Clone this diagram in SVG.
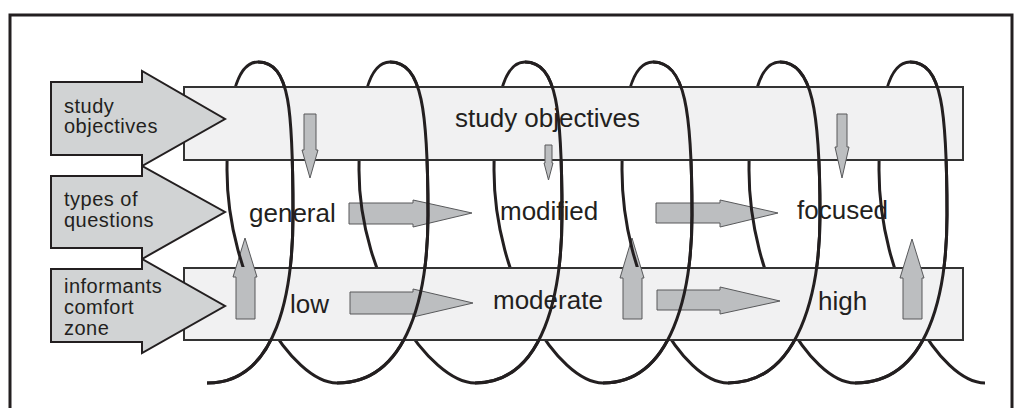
<svg xmlns="http://www.w3.org/2000/svg" width="1021" height="408" viewBox="0 0 1021 408">
<style>
.band{fill:#f1f1f2;stroke:#333333;stroke-width:2}
.big{fill:#d1d3d4;stroke:#231f20;stroke-width:2;stroke-linejoin:miter}
.sm{fill:#bcbec0;stroke:#58595b;stroke-width:1}
.coil{fill:none;stroke:#231f20;stroke-width:3}
.lbl{font-family:"Liberation Sans",Arial,sans-serif;font-size:20px;letter-spacing:0.5px;fill:#231f20}
.main{font-family:"Liberation Sans",Arial,sans-serif;font-size:26px;fill:#231f20}
</style>
<defs>
<mask id="behind" maskUnits="userSpaceOnUse" x="0" y="0" width="1021" height="408">
<rect x="0" y="0" width="1021" height="408" fill="#fff"/>
<rect x="183" y="86" width="781" height="75" fill="#000"/>
<rect x="183" y="267" width="781" height="74" fill="#000"/>
</mask>
</defs>
<rect x="10" y="15" width="1002" height="420" fill="none" stroke="#231f20" stroke-width="3"/>
<g id="band-top"><rect class="band" x="184" y="87" width="779" height="73"/></g>
<g id="band-bottom"><rect class="band" x="184" y="268" width="779" height="72"/></g>
<g id="arrow-study-objectives">
<polygon class="big" points="51,82 142,82 142,71 225,119 142,166 142,155 51,155"/>
<text class="lbl" x="64" y="113">study</text>
<text class="lbl" x="64" y="133">objectives</text>
</g>
<g id="arrow-types-of-questions">
<polygon class="big" points="51,176 142,176 142,166 225,212 142,259 142,248 51,248"/>
<text class="lbl" x="64" y="206">types of</text>
<text class="lbl" x="64" y="227">questions</text>
</g>
<g id="arrow-informants">
<polygon class="big" points="51,269 142,269 142,259 225,306 142,353 142,342 51,342"/>
<text class="lbl" x="64" y="292.5">informants</text>
<text class="lbl" x="64" y="314">comfort</text>
<text class="lbl" x="64" y="335">zone</text>
</g>
<g id="small-arrows">
<polygon class="sm" points="304,114 316,114 316,150 318,150 310,178 302,150 304,150"/>
<polygon class="sm" points="545,145 552,145 552,163 553,163 548.5,180 544,163 545,163"/>
<polygon class="sm" points="837,114 847,114 847,147 849,147 842,178 835,147 837,147"/>
<polygon class="sm" points="349,203 413,203 413,200 472,213 413,227 413,224 349,224"/>
<polygon class="sm" points="656,203 720,203 720,200 778,213 720,227 720,223 656,223"/>
<polygon class="sm" points="350,292 413,292 413,289 473,303 413,317 413,314 350,314"/>
<polygon class="sm" points="657,290 720,290 720,287 780,301 720,314 720,310 657,310"/>
<polygon class="sm" points="236,319 255,319 255,277 257,277 245,238 233,277 236,277"/>
<polygon class="sm" points="623,319 642,319 642,278 644,278 632,238 620,278 623,278"/>
<polygon class="sm" points="903,319 922,319 922,278 924,278 912,239 900,278 903,278"/>
</g>
<g id="labels">
<text class="main" x="455" y="127">study objectives</text>
<text class="main" x="249" y="222">general</text>
<text class="main" x="500" y="220">modified</text>
<text class="main" x="797" y="219">focused</text>
<text class="main" x="290" y="313">low</text>
<text class="main" x="493" y="309">moderate</text>
<text class="main" x="818" y="310">high</text>
</g>
<g id="connectors">
<path class="coil" mask="url(#behind)" d="M207,383 C278,383 293,290 293,215 C293,110 290,62 258,62 C234,62 227,110 227,170 C227,280 292,383 337,383 C410,383 428,290 428,215 C428,110 422,62 390,62 C366,62 359,110 359,170 C359,280 430,383 475,383 C545,383 562,290 562,215 C562,110 557,62 525,62 C501,62 494,110 494,170 C494,280 558,383 603,383 C673,383 692,290 692,215 C692,110 685,62 653,62 C629,62 622,110 622,170 C622,280 683,383 728,383 C800,383 820,290 820,215 C820,110 812,62 780,62 C756,62 749,110 749,170 C749,280 810,383 855,383 C930,383 947,290 947,215 C947,110 942,62 910,62 C886,62 879,110 879,170 C879,280 940,383 985,383"/>
<path class="coil" d="M207,383 C278,383 293,290 293,215 C293,110 290,62 258,62 M337,383 C410,383 428,290 428,215 C428,110 422,62 390,62 M475,383 C545,383 562,290 562,215 C562,110 557,62 525,62 M603,383 C673,383 692,290 692,215 C692,110 685,62 653,62 M728,383 C800,383 820,290 820,215 C820,110 812,62 780,62 M855,383 C930,383 947,290 947,215 C947,110 942,62 910,62"/>
</g>
</svg>
